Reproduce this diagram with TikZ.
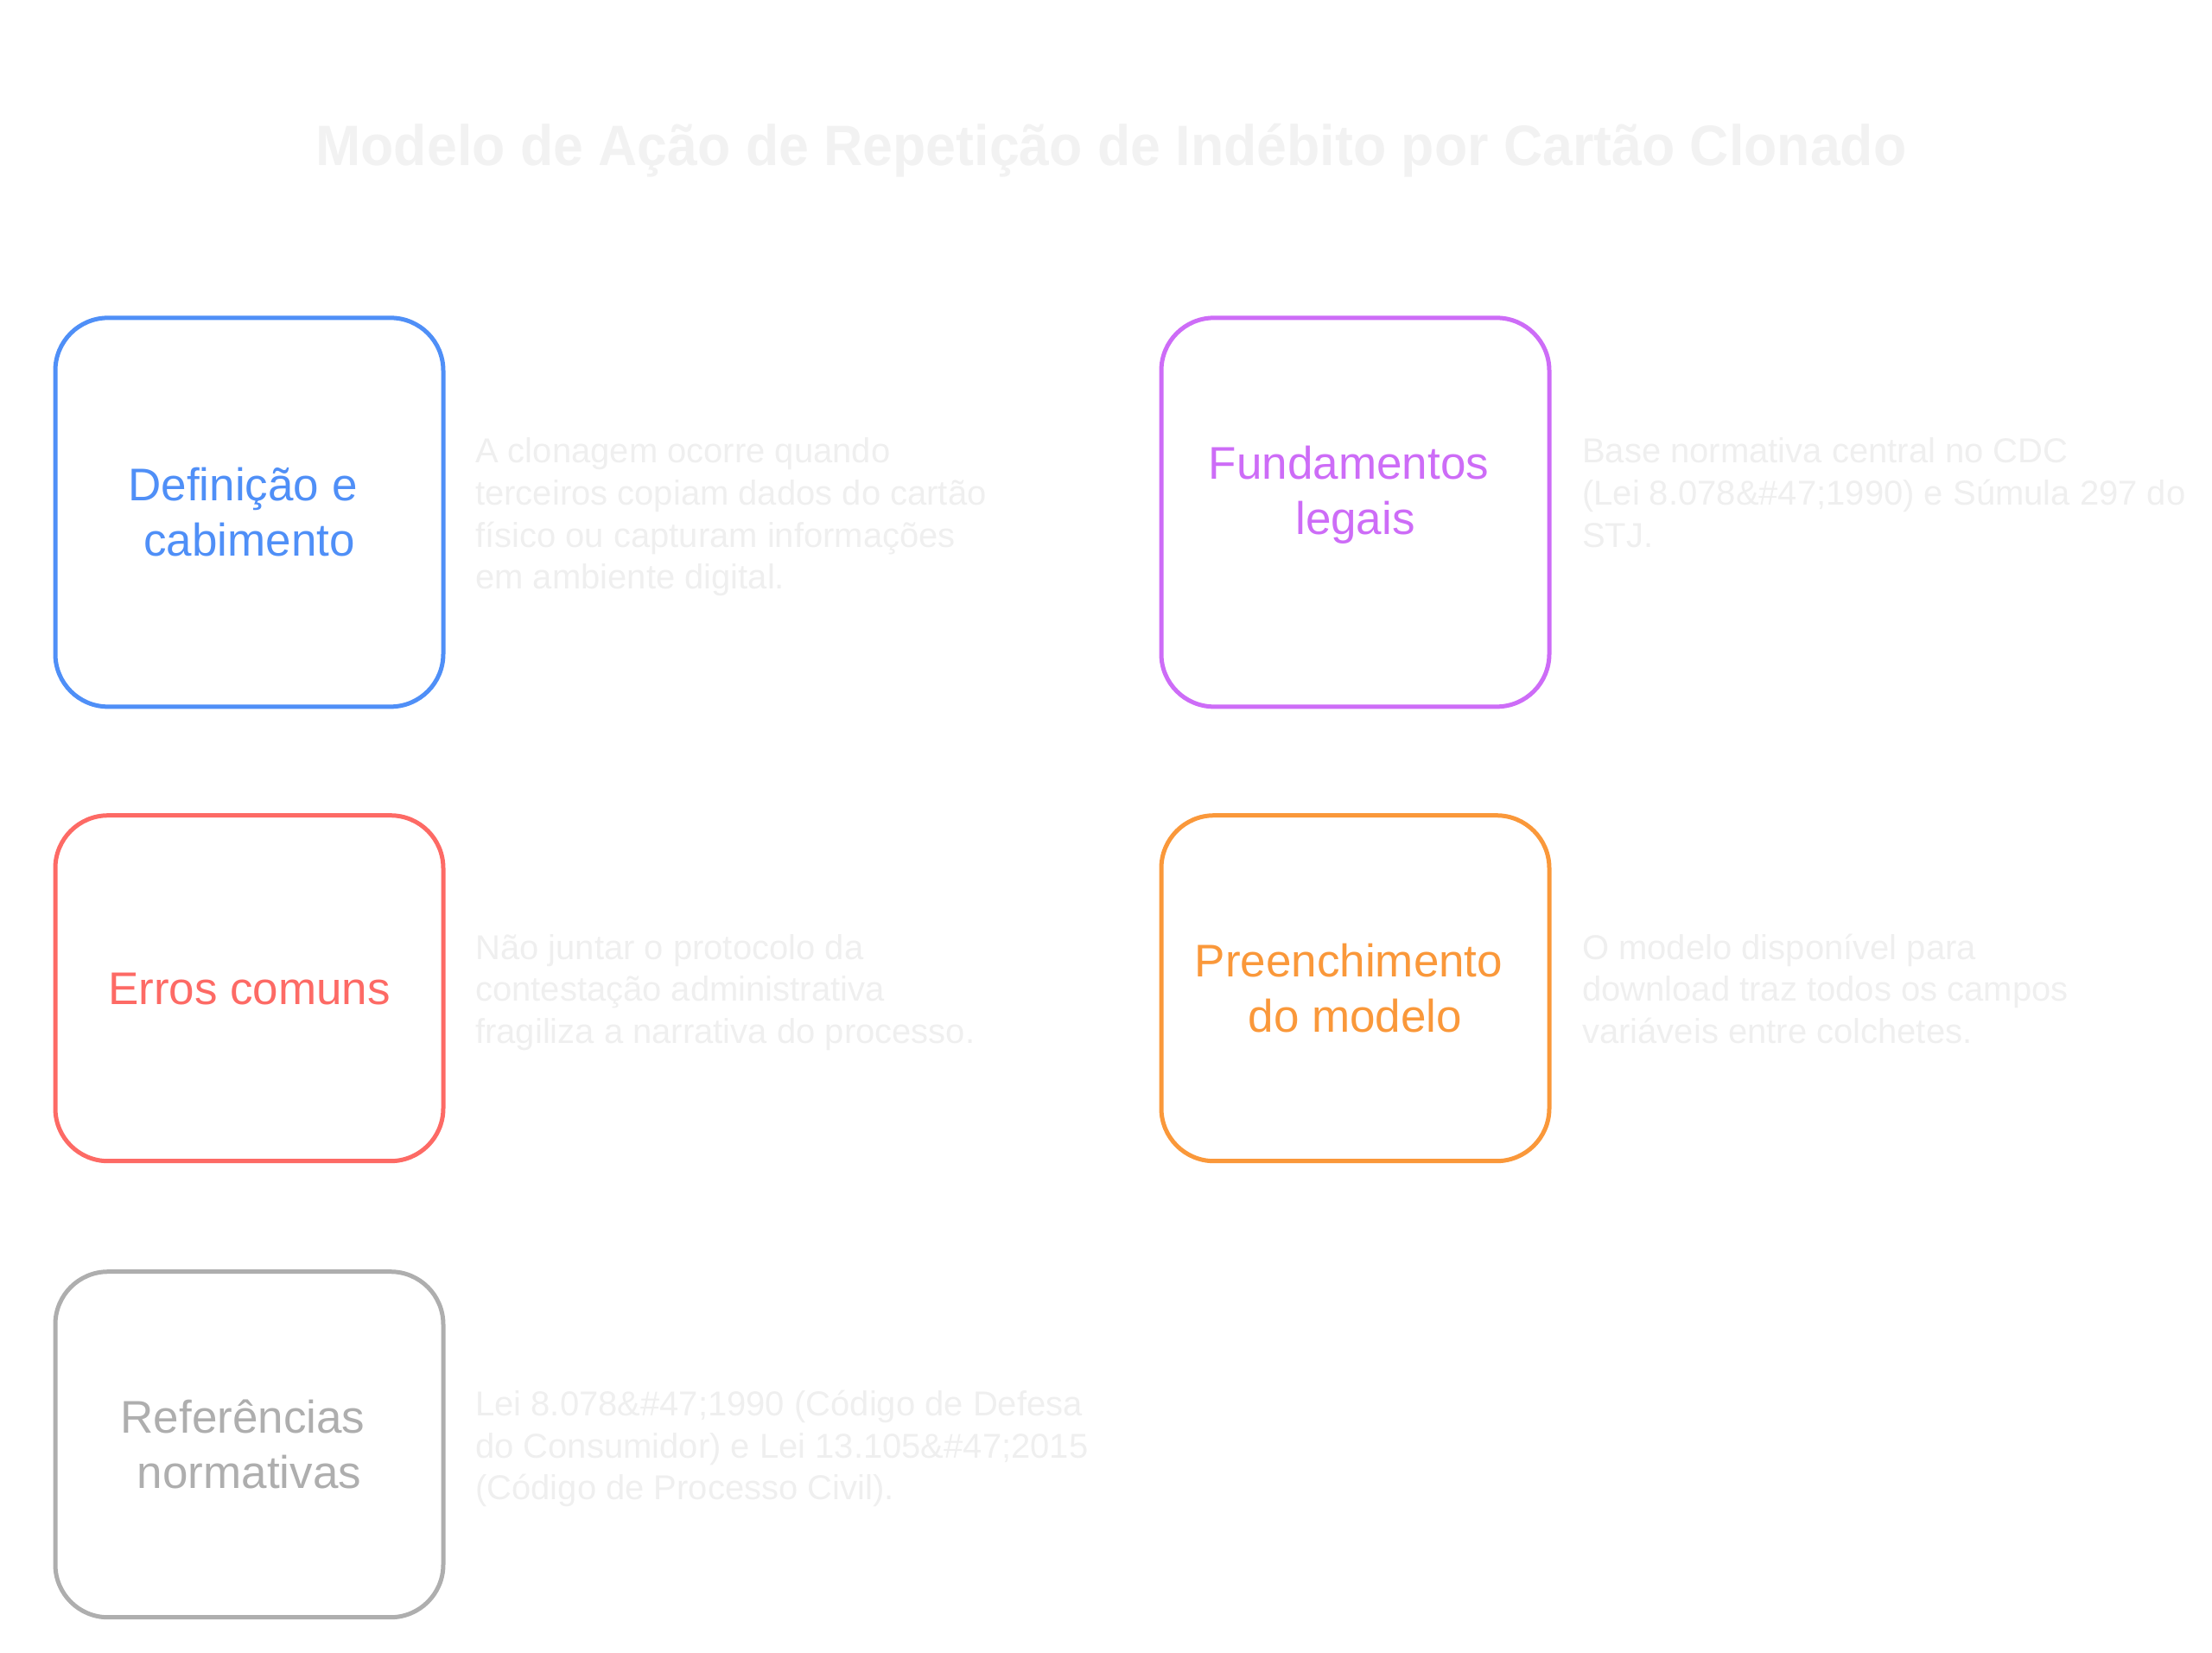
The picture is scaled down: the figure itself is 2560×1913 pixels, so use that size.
\documentclass[tikz,border=0pt]{standalone}
\usepackage{fontspec}
\setmainfont{Liberation Sans}
\definecolor{cblue}{HTML}{4F8FF7}
\definecolor{cpurple}{HTML}{CD6CF7}
\definecolor{cred}{HTML}{FD6A65}
\definecolor{corange}{HTML}{FA983A}
\definecolor{cgray}{HTML}{AEAEAE}
\definecolor{ctitle}{HTML}{F2F2F2}
\definecolor{cdesc}{HTML}{EFEFEF}
\tikzset{
  card/.style={draw=#1, line width=5pt, rounded corners=61pt, minimum width=449pt, minimum height=450pt, inner sep=0pt},
  cardshort/.style={draw=#1, line width=5pt, rounded corners=61pt, minimum width=449pt, minimum height=400pt, inner sep=0pt},
  lbl/.style={text=#1, anchor=base, inner sep=0pt, font=\fontsize{53}{64}\selectfont},
  desc/.style={text=cdesc, anchor=base west, inner sep=0pt, font=\fontsize{40}{49}\selectfont},
  ttl/.style={text=ctitle, anchor=base, inner sep=0pt, font=\bfseries\fontsize{66}{80}\selectfont}
}
\begin{document}
\begin{tikzpicture}[x=1pt,y=-1pt]
\useasboundingbox (0,0) rectangle (2560,1913);
\node[ttl] (title) at (1286,191.7) {\scalebox{0.949}[1]{Modelo de Ação de Repetição de Indébito por Cartão Clonado}};

% boxes
\node[card=cblue] (b1) at (288.5,592.85) {};
\node[card=cpurple] (b2) at (1568.5,592.85) {};
\node[cardshort=cred] (b3) at (288.5,1143.7) {};
\node[cardshort=corange] (b4) at (1568.5,1143.7) {};
\node[cardshort=cgray] (b5) at (288.5,1671.7) {};

% labels
\node[lbl=cblue] (l1a) at (281,579.6) {Definição e};
\node[lbl=cblue] (l1b) at (288.5,643.5) {cabimento};
\node[lbl=cpurple] (l2a) at (1561,554.3) {Fundamentos};
\node[lbl=cpurple] (l2b) at (1568.5,618.3) {legais};
\node[lbl=cred] (l3a) at (288.5,1162.3) {Erros comuns};
\node[lbl=corange] (l4a) at (1561,1130) {Preenchimento};
\node[lbl=corange] (l4b) at (1568.5,1194.3) {do modelo};
\node[lbl=cgray] (l5a) at (281,1658.3) {Referências};
\node[lbl=cgray] (l5b) at (288.5,1722.5) {normativas};

% descriptions
\node[desc] (d1a) at (550,535.4) {A clonagem ocorre quando};
\node[desc] (d1b) at (550,584.2) {terceiros copiam dados do cartão};
\node[desc] (d1c) at (550,633.0) {físico ou capturam informações};
\node[desc] (d1d) at (550,681.8) {em ambiente digital.};

\node[desc] (d2a) at (1831,535.4) {Base normativa central no CDC};
\node[desc] (d2b) at (1831,584.2) {(Lei 8.078\&\#47;1990) e Súmula 297 do};
\node[desc] (d2c) at (1831,633.0) {STJ.};

\node[desc] (d3a) at (550,1110.0) {Não juntar o protocolo da};
\node[desc] (d3b) at (550,1158.8) {contestação administrativa};
\node[desc] (d3c) at (550,1207.6) {fragiliza a narrativa do processo.};

\node[desc] (d4a) at (1831,1110.0) {O modelo disponível para};
\node[desc] (d4b) at (1831,1158.8) {download traz todos os campos};
\node[desc] (d4c) at (1831,1207.6) {variáveis entre colchetes.};

\node[desc] (d5a) at (550,1638.3) {Lei 8.078\&\#47;1990 (Código de Defesa};
\node[desc] (d5b) at (550,1687.1) {do Consumidor) e Lei 13.105\&\#47;2015};
\node[desc] (d5c) at (550,1735.9) {(Código de Processo Civil).};
\end{tikzpicture}
\end{document}
